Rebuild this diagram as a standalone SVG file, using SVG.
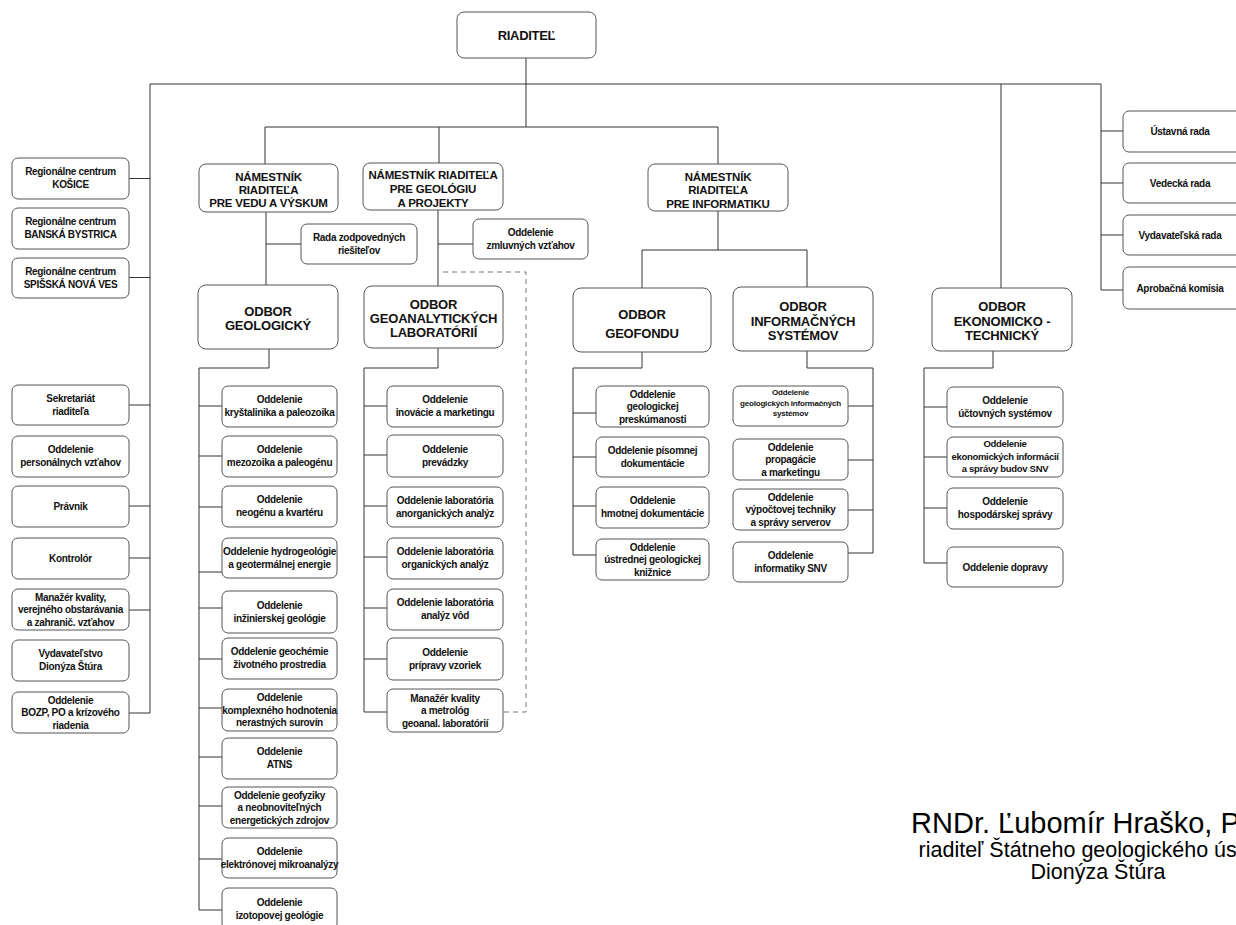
<svg xmlns="http://www.w3.org/2000/svg" width="1236" height="925" viewBox="0 0 1236 925">
<style>
rect{fill:#fff;stroke:#555;stroke-width:1}
.c line,.c polyline{stroke:#333;stroke-width:1;fill:none}
.c .main{stroke:#777;stroke-width:1.6}
.c .dash{stroke:#777;stroke-dasharray:5 4}
text{font-family:"Liberation Sans",Arial,sans-serif;fill:#111;text-anchor:middle}
.t{font-size:10px;font-weight:bold;letter-spacing:-0.3px}
.s{font-size:8px;font-weight:bold;letter-spacing:-0.2px}
.h{font-size:11.5px;font-weight:bold;letter-spacing:-0.2px}
.o{font-size:13px;font-weight:bold;letter-spacing:-0.2px}
.r{font-size:13px;font-weight:bold;letter-spacing:-0.3px}
.sig{font-weight:normal;fill:#000}
</style>
<rect x="0" y="0" width="1236" height="925" style="fill:#fff;stroke:none"/>
<g class="c" id="connectors">
<line class="main" x1="150" y1="84" x2="1101" y2="84"/>
<line x1="526" y1="58" x2="526" y2="127"/>
<polyline points="265,164 265,127 718,127 718,164"/>
<line x1="439" y1="127" x2="439" y2="163"/>
<line x1="150" y1="84" x2="150" y2="713"/>
<line x1="129" y1="178.5" x2="150" y2="178.5"/>
<line x1="129" y1="277.5" x2="150" y2="277.5"/>
<line x1="129" y1="405" x2="150" y2="405"/>
<line x1="129" y1="506" x2="150" y2="506"/>
<line x1="129" y1="558" x2="150" y2="558"/>
<line x1="129" y1="610" x2="150" y2="610"/>
<line x1="129" y1="713" x2="150" y2="713"/>
<line x1="1001" y1="84" x2="1001" y2="288"/>
<line x1="1101" y1="84" x2="1101" y2="290"/>
<line x1="1101" y1="131" x2="1123" y2="131"/>
<line x1="1101" y1="183" x2="1123" y2="183"/>
<line x1="1101" y1="235" x2="1123" y2="235"/>
<line x1="1101" y1="290" x2="1123" y2="290"/>
<line x1="266" y1="212" x2="266" y2="285"/>
<line x1="266" y1="244" x2="301" y2="244"/>
<line x1="438" y1="210" x2="438" y2="286"/>
<line x1="438" y1="244" x2="473" y2="244"/>
<polyline class="dash" points="443,272 526,272 526,712 503,712"/>
<polyline points="718,211 718,250"/>
<polyline points="642,288 642,250 807,250 807,287"/>
<polyline points="269,349 269,368 199,368 199,910"/>
<line x1="199" y1="406" x2="222" y2="406"/>
<line x1="199" y1="456" x2="222" y2="456"/>
<line x1="199" y1="507" x2="222" y2="507"/>
<line x1="199" y1="572" x2="222" y2="572"/>
<line x1="199" y1="608" x2="222" y2="608"/>
<line x1="199" y1="659" x2="222" y2="659"/>
<line x1="199" y1="708" x2="222" y2="708"/>
<line x1="199" y1="757" x2="222" y2="757"/>
<line x1="199" y1="806" x2="222" y2="806"/>
<line x1="199" y1="859" x2="222" y2="859"/>
<line x1="199" y1="910" x2="222" y2="910"/>
<polyline points="438,348 438,368 364,368 364,712 387,712"/>
<line x1="364" y1="406" x2="387" y2="406"/>
<line x1="364" y1="455" x2="387" y2="455"/>
<line x1="364" y1="506" x2="387" y2="506"/>
<line x1="364" y1="557" x2="387" y2="557"/>
<line x1="364" y1="608" x2="387" y2="608"/>
<line x1="364" y1="659" x2="387" y2="659"/>
<polyline points="642,352 642,368 573,368 573,555 596,555"/>
<line x1="573" y1="413" x2="596" y2="413"/>
<line x1="573" y1="457" x2="596" y2="457"/>
<line x1="573" y1="506" x2="596" y2="506"/>
<polyline points="807,351 807,368 873,368 873,553 848,553"/>
<line x1="848" y1="406" x2="873" y2="406"/>
<line x1="848" y1="460" x2="873" y2="460"/>
<line x1="848" y1="510" x2="873" y2="510"/>
<polyline points="993,351 993,368 924,368 924,563 947,563"/>
<line x1="924" y1="407" x2="947" y2="407"/>
<line x1="924" y1="457" x2="947" y2="457"/>
<line x1="924" y1="508" x2="947" y2="508"/>
</g>

<g id="riaditel"><rect x="457" y="12" width="139" height="46" rx="7"/><text class="r" x="526.5" y="40">RIADITEĽ</text></g>

<g id="nam-veda"><rect x="199" y="164" width="139" height="48" rx="7"/><text class="h"><tspan x="268.5" y="181">NÁMESTNÍK</tspan><tspan x="268.5" y="194">RIADITEĽA</tspan><tspan x="268.5" y="207">PRE VEDU A VÝSKUM</tspan></text></g>
<g id="nam-geol"><rect x="363" y="163" width="140" height="47" rx="7"/><text class="h"><tspan x="433" y="179">NÁMESTNÍK RIADITEĽA</tspan><tspan x="433" y="193">PRE GEOLÓGIU</tspan><tspan x="433" y="207">A PROJEKTY</tspan></text></g>
<g id="nam-info"><rect x="648" y="164" width="140" height="47" rx="7"/><text class="h"><tspan x="718" y="181">NÁMESTNÍK</tspan><tspan x="718" y="194">RIADITEĽA</tspan><tspan x="718" y="208">PRE INFORMATIKU</tspan></text></g>
<g id="rada-zodp"><rect x="301" y="224" width="116" height="40" rx="6"/><text class="t"><tspan x="359" y="240.5">Rada zodpovedných</tspan><tspan x="359" y="253.5">riešiteľov</tspan></text></g>
<g id="odd-zmluv"><rect x="473" y="219" width="115" height="40" rx="6"/><text class="t"><tspan x="530.5" y="235.5">Oddelenie</tspan><tspan x="530.5" y="248.5">zmluvných vzťahov</tspan></text></g>

<g id="odbor-geol"><rect x="198" y="285" width="140" height="64" rx="8"/><text class="o"><tspan x="268" y="315.5">ODBOR</tspan><tspan x="268" y="329.5">GEOLOGICKÝ</tspan></text></g>
<g id="odbor-geoanal"><rect x="364" y="286" width="139" height="62" rx="8"/><text class="o"><tspan x="433.5" y="308.5">ODBOR</tspan><tspan x="433.5" y="322.5">GEOANALYTICKÝCH</tspan><tspan x="433.5" y="336.5">LABORATÓRIÍ</tspan></text></g>
<g id="odbor-geofond"><rect x="573" y="288" width="138" height="64" rx="8"/><text class="o"><tspan x="642" y="318.5">ODBOR</tspan><tspan x="642" y="337.5">GEOFONDU</tspan></text></g>
<g id="odbor-is"><rect x="733" y="287" width="140" height="64" rx="8"/><text class="o"><tspan x="803" y="310.5">ODBOR</tspan><tspan x="803" y="325.5">INFORMAČNÝCH</tspan><tspan x="803" y="339.5">SYSTÉMOV</tspan></text></g>
<g id="odbor-ekon"><rect x="932" y="288" width="140" height="63" rx="8"/><text class="o"><tspan x="1002" y="311">ODBOR</tspan><tspan x="1002" y="326">EKONOMICKO -</tspan><tspan x="1002" y="340">TECHNICKÝ</tspan></text></g>

<g id="rc-kosice"><rect x="12" y="158" width="117" height="41" rx="6"/><text class="t"><tspan x="70.5" y="175">Regionálne centrum</tspan><tspan x="70.5" y="188">KOŠICE</tspan></text></g>
<g id="rc-bb"><rect x="12" y="208" width="117" height="41" rx="6"/><text class="t"><tspan x="70.5" y="225">Regionálne centrum</tspan><tspan x="70.5" y="238">BANSKÁ BYSTRICA</tspan></text></g>
<g id="rc-snv"><rect x="12" y="258" width="117" height="40" rx="6"/><text class="t"><tspan x="70.5" y="274.5">Regionálne centrum</tspan><tspan x="70.5" y="287.5">SPIŠSKÁ NOVÁ VES</tspan></text></g>
<g id="sekretariat"><rect x="12" y="385" width="117" height="40" rx="6"/><text class="t"><tspan x="70.5" y="401.5">Sekretariát</tspan><tspan x="70.5" y="414.5">riaditeľa</tspan></text></g>
<g id="personal"><rect x="12" y="436" width="117" height="41" rx="6"/><text class="t"><tspan x="70.5" y="453">Oddelenie</tspan><tspan x="70.5" y="466">personálnych vzťahov</tspan></text></g>
<g id="pravnik"><rect x="12" y="486" width="117" height="41" rx="6"/><text class="t" x="70.5" y="510">Právnik</text></g>
<g id="kontrolor"><rect x="12" y="538" width="117" height="41" rx="6"/><text class="t" x="70.5" y="562">Kontrolór</text></g>
<g id="manazer"><rect x="12" y="589" width="117" height="41" rx="6"/><text class="t"><tspan x="70.5" y="600.5">Manažér kvality,</tspan><tspan x="70.5" y="613">verejného obstarávania</tspan><tspan x="70.5" y="625.5">a zahranič. vzťahov</tspan></text></g>
<g id="vydavatelstvo"><rect x="12" y="640" width="117" height="41" rx="6"/><text class="t"><tspan x="70.5" y="657">Vydavateľstvo</tspan><tspan x="70.5" y="670">Dionýza Štúra</tspan></text></g>
<g id="bozp"><rect x="12" y="692" width="117" height="41" rx="6"/><text class="t"><tspan x="70.5" y="703.5">Oddelenie</tspan><tspan x="70.5" y="716">BOZP, PO a krízového</tspan><tspan x="70.5" y="728.5">riadenia</tspan></text></g>

<g id="rada-ustav"><rect x="1123" y="111" width="120" height="41" rx="6"/><text class="t" x="1180" y="135">Ústavná rada</text></g>
<g id="rada-ved"><rect x="1123" y="163" width="120" height="40" rx="6"/><text class="t" x="1180" y="186.6">Vedecká rada</text></g>
<g id="rada-vyd"><rect x="1123" y="215" width="120" height="40" rx="6"/><text class="t" x="1180" y="238.6">Vydavateľská rada</text></g>
<g id="aprob"><rect x="1123" y="267" width="120" height="42" rx="6"/><text class="t" x="1180" y="291.6">Aprobačná komisia</text></g>

<g id="g1"><rect x="222" y="386" width="115" height="41" rx="6"/><text class="t"><tspan x="279.5" y="403">Oddelenie</tspan><tspan x="279.5" y="416">kryštalinika a paleozoika</tspan></text></g>
<g id="g2"><rect x="222" y="436" width="115" height="41" rx="6"/><text class="t"><tspan x="279.5" y="453">Oddelenie</tspan><tspan x="279.5" y="466">mezozoika a paleogénu</tspan></text></g>
<g id="g3"><rect x="222" y="486" width="115" height="41" rx="6"/><text class="t"><tspan x="279.5" y="503">Oddelenie</tspan><tspan x="279.5" y="516">neogénu a kvartéru</tspan></text></g>
<g id="g4"><rect x="222" y="538" width="115" height="40" rx="6"/><text class="t"><tspan x="279.5" y="554.5">Oddelenie hydrogeológie</tspan><tspan x="279.5" y="567.5">a geotermálnej energie</tspan></text></g>
<g id="g5"><rect x="222" y="591" width="115" height="42" rx="6"/><text class="t"><tspan x="279.5" y="608.5">Oddelenie</tspan><tspan x="279.5" y="621.5">inžinierskej geológie</tspan></text></g>
<g id="g6"><rect x="222" y="638" width="115" height="41" rx="6"/><text class="t"><tspan x="279.5" y="655">Oddelenie geochémie</tspan><tspan x="279.5" y="668">životného prostredia</tspan></text></g>
<g id="g7"><rect x="222" y="689" width="115" height="42" rx="6"/><text class="t"><tspan x="279.5" y="701">Oddelenie</tspan><tspan x="279.5" y="713.5">komplexného hodnotenia</tspan><tspan x="279.5" y="726">nerastných surovín</tspan></text></g>
<g id="g8"><rect x="222" y="738" width="115" height="41" rx="6"/><text class="t"><tspan x="279.5" y="755">Oddelenie</tspan><tspan x="279.5" y="768">ATNS</tspan></text></g>
<g id="g9"><rect x="222" y="787" width="115" height="41" rx="6"/><text class="t"><tspan x="279.5" y="798.5">Oddelenie geofyziky</tspan><tspan x="279.5" y="811">a neobnoviteľných</tspan><tspan x="279.5" y="823.5">energetických zdrojov</tspan></text></g>
<g id="g10"><rect x="222" y="838" width="115" height="40" rx="6"/><text class="t"><tspan x="279.5" y="854.5">Oddelenie</tspan><tspan x="279.5" y="867.5">elektrónovej mikroanalýzy</tspan></text></g>
<g id="g11"><rect x="222" y="888" width="115" height="42" rx="6"/><text class="t"><tspan x="279.5" y="905.5">Oddelenie</tspan><tspan x="279.5" y="918.5">izotopovej geológie</tspan></text></g>

<g id="a1"><rect x="387" y="386" width="116" height="41" rx="6"/><text class="t"><tspan x="445" y="403">Oddelenie</tspan><tspan x="445" y="416">inovácie a marketingu</tspan></text></g>
<g id="a2"><rect x="387" y="435" width="116" height="42" rx="6"/><text class="t"><tspan x="445" y="452.5">Oddelenie</tspan><tspan x="445" y="465.5">prevádzky</tspan></text></g>
<g id="a3"><rect x="387" y="487" width="116" height="40" rx="6"/><text class="t"><tspan x="445" y="503.5">Oddelenie laboratória</tspan><tspan x="445" y="516.5">anorganických analýz</tspan></text></g>
<g id="a4"><rect x="387" y="538" width="116" height="41" rx="6"/><text class="t"><tspan x="445" y="555">Oddelenie laboratória</tspan><tspan x="445" y="568">organických analýz</tspan></text></g>
<g id="a5"><rect x="387" y="589" width="116" height="41" rx="6"/><text class="t"><tspan x="445" y="606">Oddelenie laboratória</tspan><tspan x="445" y="619">analýz vôd</tspan></text></g>
<g id="a6"><rect x="387" y="638" width="116" height="42" rx="6"/><text class="t"><tspan x="445" y="655.5">Oddelenie</tspan><tspan x="445" y="668.5">prípravy vzoriek</tspan></text></g>
<g id="a7"><rect x="387" y="689" width="116" height="43" rx="6"/><text class="t"><tspan x="445" y="701.5">Manažér kvality</tspan><tspan x="445" y="714">a metrológ</tspan><tspan x="445" y="726.5">geoanal. laboratórií</tspan></text></g>

<g id="f1"><rect x="596" y="386" width="113" height="41" rx="6"/><text class="t"><tspan x="652.5" y="397.5">Oddelenie</tspan><tspan x="652.5" y="410">geologickej</tspan><tspan x="652.5" y="422.5">preskúmanosti</tspan></text></g>
<g id="f2"><rect x="596" y="437" width="113" height="40" rx="6"/><text class="t"><tspan x="652.5" y="453.5">Oddelenie písomnej</tspan><tspan x="652.5" y="466.5">dokumentácie</tspan></text></g>
<g id="f3"><rect x="596" y="487" width="113" height="41" rx="6"/><text class="t"><tspan x="652.5" y="504">Oddelenie</tspan><tspan x="652.5" y="517">hmotnej dokumentácie</tspan></text></g>
<g id="f4"><rect x="596" y="539" width="113" height="41" rx="6"/><text class="t"><tspan x="652.5" y="550.5">Oddelenie</tspan><tspan x="652.5" y="563">ústrednej geologickej</tspan><tspan x="652.5" y="575.5">knižnice</tspan></text></g>

<g id="i1"><rect x="733" y="386" width="115" height="40" rx="6"/><text class="s"><tspan x="790.5" y="395">Oddelenie</tspan><tspan x="790.5" y="405.5">geologických informačných</tspan><tspan x="790.5" y="416">systémov</tspan></text></g>
<g id="i2"><rect x="733" y="439" width="115" height="41" rx="6"/><text class="t"><tspan x="790.5" y="450.5">Oddelenie</tspan><tspan x="790.5" y="463">propagácie</tspan><tspan x="790.5" y="475.5">a marketingu</tspan></text></g>
<g id="i3"><rect x="733" y="489" width="115" height="41" rx="6"/><text class="t"><tspan x="790.5" y="500.5">Oddelenie</tspan><tspan x="790.5" y="513">výpočtovej techniky</tspan><tspan x="790.5" y="525.5">a správy serverov</tspan></text></g>
<g id="i4"><rect x="733" y="542" width="115" height="40" rx="6"/><text class="t"><tspan x="790.5" y="558.5">Oddelenie</tspan><tspan x="790.5" y="571.5">informatiky SNV</tspan></text></g>

<g id="e1"><rect x="947" y="387" width="116" height="40" rx="6"/><text class="t"><tspan x="1005" y="403.5">Oddelenie</tspan><tspan x="1005" y="416.5">účtovných systémov</tspan></text></g>
<g id="e2"><rect x="947" y="437" width="116" height="40" rx="6"/><text class="t" style="font-size:9.5px"><tspan x="1005" y="446.5">Oddelenie</tspan><tspan x="1005" y="459.5">ekonomických informácií</tspan><tspan x="1005" y="471.5">a správy budov SNV</tspan></text></g>
<g id="e3"><rect x="947" y="488" width="116" height="41" rx="6"/><text class="t"><tspan x="1005" y="505">Oddelenie</tspan><tspan x="1005" y="518">hospodárskej správy</tspan></text></g>
<g id="e4"><rect x="947" y="547" width="116" height="40" rx="6"/><text class="t" x="1005" y="570.5">Oddelenie dopravy</text></g>

<g id="podpis">
<text class="sig" x="1098" y="833" style="font-size:29px">RNDr. Ľubomír Hraško, PhD.</text>
<text class="sig" x="1098" y="857" style="font-size:21.5px">riaditeľ Štátneho geologického ústavu</text>
<text class="sig" x="1098" y="879" style="font-size:21.5px">Dionýza Štúra</text>
</g>
</svg>
